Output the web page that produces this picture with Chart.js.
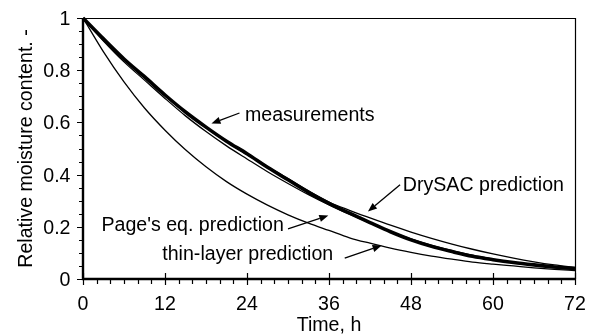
<!DOCTYPE html>
<html>
<head>
<meta charset="utf-8">
<script src="https://cdn.jsdelivr.net/npm/chart.js@4.4.1/dist/chart.umd.min.js"></script>
<style>
  html, body { margin: 0; padding: 0; background: #fff; }
  #wrap { width: 598px; height: 336px; }
</style>
</head>
<body>
<div id="wrap"><canvas id="chart" width="598" height="336"></canvas></div>
<script>
// Drying time, h
const hours = [0, 3, 6, 9, 12, 15, 18, 21, 24, 27, 30, 33, 36, 39, 42, 45, 48, 51, 54, 57, 60, 63, 66, 69, 72];

// Relative moisture content of each series
const measured  = [1.000, 0.920, 0.843, 0.775, 0.705, 0.640, 0.582, 0.528, 0.480, 0.428, 0.380, 0.332, 0.290, 0.252, 0.216, 0.181, 0.150, 0.125, 0.105, 0.087, 0.074, 0.063, 0.054, 0.046, 0.040];
const drySAC    = [1.000, 0.917, 0.840, 0.770, 0.702, 0.638, 0.580, 0.526, 0.477, 0.430, 0.385, 0.338, 0.295, 0.263, 0.234, 0.206, 0.180, 0.156, 0.134, 0.114, 0.096, 0.080, 0.066, 0.054, 0.044];
const pagesEq   = [1.000, 0.912, 0.832, 0.762, 0.692, 0.625, 0.565, 0.510, 0.460, 0.411, 0.366, 0.323, 0.284, 0.248, 0.214, 0.182, 0.154, 0.130, 0.109, 0.091, 0.076, 0.063, 0.052, 0.043, 0.035];
const thinLayer = [1.000, 0.870, 0.755, 0.655, 0.570, 0.495, 0.430, 0.373, 0.325, 0.283, 0.246, 0.214, 0.186, 0.158, 0.137, 0.118, 0.102, 0.088, 0.076, 0.065, 0.057, 0.050, 0.043, 0.037, 0.032];

// Axis ticks
const xMajorTicks = [0, 12, 24, 36, 48, 60, 72];
const xMinorTicks = [2, 4, 6, 8, 10, 14, 16, 18, 20, 22, 26, 28, 30, 32, 34, 38, 40, 42, 44, 46, 50, 52, 54, 56, 58, 62, 64, 66, 68, 70];
const yMajorTicks = [0, 0.2, 0.4, 0.6, 0.8, 1];
const yMinorTicks = [0.05, 0.1, 0.15, 0.25, 0.3, 0.35, 0.45, 0.5, 0.55, 0.65, 0.7, 0.75, 0.85, 0.9, 0.95];
const yTickLabels = ['0', '0.2', '0.4', '0.6', '0.8', '1'];

// Curve labels with their pointer arrows (in data units)
const notes = [
  { text: 'measurements',          at: [23.7, 0.605], tail: [22.9, 0.636], tip: [18.8, 0.596] },
  { text: 'DrySAC prediction',     at: [46.8, 0.339], tail: [46.4, 0.361], tip: [41.7, 0.259] },
  { text: "Page's eq. prediction", at: [2.7, 0.182],  tail: [30.0, 0.192], tip: [35.9, 0.243] },
  { text: 'thin-layer prediction', at: [11.6, 0.074], tail: [38.3, 0.080], tip: [43.7, 0.128] }
];

const FONT = '19.6px "Liberation Sans", Arial, Helvetica, sans-serif';

function series(values) {
  return hours.map((t, i) => ({ x: t, y: values[i] }));
}

function arrow(ctx, x0, y0, x1, y1) {
  const ang = Math.atan2(y1 - y0, x1 - x0);
  const len = 9, half = 3.6;
  const bx = x1 - len * Math.cos(ang), by = y1 - len * Math.sin(ang);
  ctx.beginPath();
  ctx.moveTo(x0, y0);
  ctx.lineTo(bx, by);
  ctx.stroke();
  ctx.beginPath();
  ctx.moveTo(x1, y1);
  ctx.lineTo(bx + half * Math.sin(ang), by - half * Math.cos(ang));
  ctx.lineTo(bx - half * Math.sin(ang), by + half * Math.cos(ang));
  ctx.closePath();
  ctx.fill();
}

const framePlugin = {
  id: 'frame',
  afterDatasetsDraw(chart) {
    const { ctx, chartArea: a, scales: { x, y } } = chart;
    ctx.save();
    ctx.strokeStyle = '#000';
    ctx.fillStyle = '#000';

    // top and right border
    ctx.lineWidth = 1.2;
    ctx.beginPath();
    ctx.moveTo(a.left, a.top + 0.5);
    ctx.lineTo(a.right + 0.5, a.top + 0.5);
    ctx.lineTo(a.right + 0.5, a.bottom);
    ctx.stroke();

    // left and bottom axes
    ctx.lineWidth = 2.4;
    ctx.beginPath();
    ctx.moveTo(a.left, a.top);
    ctx.lineTo(a.left, a.bottom);
    ctx.lineTo(a.right + 1, a.bottom);
    ctx.stroke();

    // ticks
    ctx.lineWidth = 1.2;
    ctx.beginPath();
    xMajorTicks.forEach(v => {
      const px = Math.round(x.getPixelForValue(v)) + 0.5;
      ctx.moveTo(px, a.bottom - 6);
      ctx.lineTo(px, a.bottom + 6);
    });
    xMinorTicks.forEach(v => {
      const px = Math.round(x.getPixelForValue(v)) + 0.5;
      ctx.moveTo(px, a.bottom);
      ctx.lineTo(px, a.bottom + 5);
    });
    yMajorTicks.forEach(v => {
      const py = Math.round(y.getPixelForValue(v)) + 0.5;
      ctx.moveTo(a.left - 6, py);
      ctx.lineTo(a.left, py);
    });
    yMinorTicks.forEach(v => {
      const py = Math.round(y.getPixelForValue(v)) + 0.5;
      ctx.moveTo(a.left - 4, py);
      ctx.lineTo(a.left, py);
    });
    ctx.stroke();

    // tick labels
    ctx.font = FONT;
    ctx.textBaseline = 'alphabetic';
    ctx.textAlign = 'center';
    xMajorTicks.forEach(v => {
      ctx.fillText(String(v), x.getPixelForValue(v), a.bottom + 31);
    });
    ctx.textAlign = 'right';
    yMajorTicks.forEach((v, i) => {
      ctx.fillText(yTickLabels[i], a.left - 12.5, y.getPixelForValue(v) + 7);
    });

    // axis titles
    ctx.textAlign = 'center';
    ctx.fillText('Time, h', (a.left + a.right) / 2, a.bottom + 52);
    ctx.save();
    ctx.translate(31.5, (a.top + a.bottom) / 2);
    ctx.rotate(-Math.PI / 2);
    ctx.fillText('Relative moisture content. -', 0, 0);
    ctx.restore();

    // curve labels and arrows
    ctx.textAlign = 'left';
    ctx.lineWidth = 1.3;
    notes.forEach(n => {
      ctx.fillText(n.text, x.getPixelForValue(n.at[0]), y.getPixelForValue(n.at[1]));
      arrow(ctx,
        x.getPixelForValue(n.tail[0]), y.getPixelForValue(n.tail[1]),
        x.getPixelForValue(n.tip[0]), y.getPixelForValue(n.tip[1]));
    });
    ctx.restore();
  }
};

const lineStyle = (w) => ({
  borderColor: '#000',
  borderWidth: w,
  pointRadius: 0,
  fill: false,
  cubicInterpolationMode: 'monotone',
  clip: 4
});

new Chart(document.getElementById('chart'), {
  type: 'line',
  data: {
    datasets: [
      { label: 'thin-layer prediction', data: series(thinLayer), ...lineStyle(1.3) },
      { label: "Page's eq. prediction", data: series(pagesEq), ...lineStyle(1.3) },
      { label: 'DrySAC prediction', data: series(drySAC), ...lineStyle(1.3) },
      { label: 'measurements', data: series(measured), ...lineStyle(3.6) }
    ]
  },
  options: {
    responsive: false,
    animation: false,
    devicePixelRatio: 1,
    layout: { padding: { left: 83, right: 23, top: 18, bottom: 57 } },
    plugins: { legend: { display: false }, tooltip: { enabled: false } },
    scales: {
      x: { type: 'linear', min: 0, max: 72, display: false },
      y: { type: 'linear', min: 0, max: 1, display: false }
    }
  },
  plugins: [framePlugin]
});
</script>
</body>
</html>
